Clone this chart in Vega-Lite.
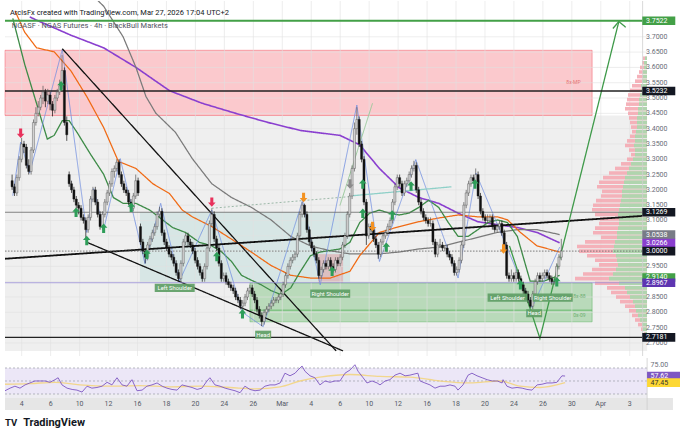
{
  "$schema": "https://vega.github.io/schema/vega-lite/v6.json",
  "padding": 0,
  "spacing": 0,
  "background": "white",
  "config": {"view": {"stroke": null}, "font": "Roboto", "axis": {"disable": true}},
  "vconcat": [
    {
      "width": 680,
      "height": 355,
      "resolve": {"scale": {"x": "independent"}},
      "layer": [
        {
          "layer": [
            {
              "data": {"values": [
                {"i": -0.9, "i2": 265.2, "p": 2.6737, "p2": 3.443, "k": "bg"},
                {"i": -0.9, "i2": 242.4, "p": 3.443, "p2": 3.656, "k": "red"},
                {"i": 55.0, "i2": 142.1, "p": 2.897, "p2": 3.127, "k": "teal"},
                {"i": 128.8, "i2": 139.2, "p": 2.896, "p2": 2.99, "k": "pink"},
                {"i": 100.6, "i2": 242.4, "p": 2.807, "p2": 2.896, "k": "green"},
                {"i": 100.6, "i2": 242.4, "p": 2.769, "p2": 2.807, "k": "green"}
              ]},
              "mark": {"type": "rect", "strokeWidth": 0.8},
              "encoding": {
                "x": {"field": "i", "type": "quantitative", "scale": {"domain": [-2.984, 278.82], "nice": false, "zero": false}},
                "x2": {"field": "i2"},
                "y": {"field": "p", "type": "quantitative", "scale": {"domain": [2.6737, 3.8006], "nice": false, "zero": false}},
                "y2": {"field": "p2"},
                "fill": {"condition": [
                  {"test": "datum.k=='bg'", "value": "#efefef"},
                  {"test": "datum.k=='red'", "value": "rgba(242,54,69,0.27)"},
                  {"test": "datum.k=='teal'", "value": "rgba(38,166,154,0.12)"},
                  {"test": "datum.k=='pink'", "value": "rgba(242,54,69,0.22)"}
                ], "value": "rgba(76,175,80,0.33)"},
                "stroke": {"condition": [
                  {"test": "datum.k=='red'", "value": "rgba(242,54,69,0.5)"},
                  {"test": "datum.k=='green'", "value": "rgba(76,175,80,0.55)"}
                ], "value": "rgba(0,0,0,0)"}
              }
            },
            {
              "data": {"values": [
                {"i": 6}, {"i": 18}, {"i": 30}, {"i": 42}, {"i": 54}, {"i": 66}, {"i": 78}, {"i": 90},
                {"i": 102}, {"i": 114}, {"i": 126}, {"i": 138}, {"i": 150}, {"i": 162}, {"i": 174},
                {"i": 186}, {"i": 198}, {"i": 210}, {"i": 222}, {"i": 234}, {"i": 246}, {"i": 258}
              ]},
              "mark": {"type": "rule", "color": "#e0e0e0", "strokeWidth": 0.6},
              "encoding": {"x": {"field": "i", "type": "quantitative", "scale": {"domain": [-2.984, 278.82], "nice": false, "zero": false}}}
            },
            {
              "data": {"values": "p\n2.70\n2.75\n2.80\n2.85\n2.90\n2.95\n3.00\n3.05\n3.10\n3.15\n3.20\n3.25\n3.30\n3.35\n3.40\n3.45\n3.50\n3.55\n3.60\n3.65\n3.70", "format": {"type": "csv", "parse": {"p": "number"}}},
              "mark": {"type": "rule", "color": "#e0e0e0", "strokeWidth": 0.6},
              "encoding": {
                "x": {"datum": -0.9},
                "x2": {"datum": 265.2},
                "y": {"field": "p", "type": "quantitative", "scale": {"domain": [2.6737, 3.8006], "nice": false, "zero": false}}
              }
            }
          ]
        },
        {
          "data": {"values": "p,tot,buy\n3.63,4,2\n3.615,5,3\n3.60,7,3\n3.585,8,4\n3.57,10,4\n3.555,12,5\n3.54,15,6\n3.525,17,6\n3.51,19,7\n3.495,20,8\n3.48,21,8\n3.465,22,9\n3.45,19,9\n3.435,18,10\n3.42,17,10\n3.405,16,10\n3.39,15,11\n3.375,17,12\n3.36,20,12\n3.345,22,13\n3.33,18,12\n3.315,16,12\n3.30,20,14\n3.285,26,16\n3.27,32,18\n3.255,38,20\n3.24,44,22\n3.225,48,23\n3.21,50,24\n3.195,45,25\n3.18,46,25\n3.165,51,26\n3.15,54,27\n3.135,55,28\n3.12,52,29\n3.105,47,28\n3.09,48,28\n3.075,52,29\n3.06,54,30\n3.045,46,30\n3.03,62,32\n3.015,70,33\n3.00,68,34\n2.985,60,31\n2.97,52,30\n2.955,48,29\n2.94,55,31\n2.925,64,34\n2.91,72,38\n2.895,52,28\n2.88,40,22\n2.865,36,20\n2.85,31,17\n2.835,27,14\n2.82,22,12\n2.805,18,11\n2.79,15,9\n2.775,12,7\n2.76,9,5\n2.745,6,4\n2.73,3,2", "format": {"type": "csv", "parse": {"p": "number", "tot": "number", "buy": "number"}}},
          "layer": [
            {
              "mark": {"type": "bar", "height": 3.6, "color": "#f4aab2", "opacity": 0.9},
              "encoding": {
                "x": {"field": "tot", "type": "quantitative", "scale": {"domain": [-33, 647], "reverse": true, "nice": false, "zero": false}},
                "x2": {"datum": 0},
                "y": {"field": "p", "type": "quantitative", "scale": {"domain": [2.6737, 3.8006], "nice": false, "zero": false}}
              }
            },
            {
              "mark": {"type": "bar", "height": 3.6, "color": "#acd7ad", "opacity": 0.95},
              "encoding": {
                "x": {"field": "buy", "type": "quantitative", "scale": {"domain": [-33, 647], "reverse": true, "nice": false, "zero": false}},
                "x2": {"datum": 0},
                "y": {"field": "p", "type": "quantitative"}
              }
            }
          ]
        },
        {
          "layer": [
            {
              "data": {"values": "s,i,p\nma200,7.4,3.765\nma200,10.7,3.753\nma200,24.8,3.705\nma200,38.5,3.664\nma200,52.1,3.600\nma200,66.2,3.524\nma200,79.9,3.483\nma200,93.6,3.451\nma200,107.7,3.420\nma200,121.3,3.394\nma200,137.9,3.378\nma200,146.2,3.347\nma200,154.5,3.270\nma200,162.8,3.207\nma200,171.1,3.175\nma200,179.4,3.156\nma200,187.6,3.124\nma200,195.9,3.096\nma200,204.2,3.086\nma200,212.5,3.077\nma200,220.8,3.061\nma200,230.3,3.027\nma100,34.3,3.832\nma100,38.5,3.800\nma100,46.7,3.700\nma100,52.1,3.600\nma100,56.3,3.505\nma100,60.4,3.451\nma100,68.7,3.388\nma100,75.8,3.302\nma100,84.0,3.220\nma100,92.3,3.175\nma100,100.6,3.143\nma100,108.9,3.102\nma100,117.2,3.048\nma100,125.5,3.017\nma100,133.8,3.001\nma100,142.1,2.991\nma100,154.5,2.991\nma100,162.8,2.997\nma100,171.1,3.007\nma100,179.4,3.013\nma100,187.6,3.029\nma100,195.9,3.045\nma100,204.2,3.061\nma100,212.5,3.070\nma100,220.8,3.070\nma100,230.3,3.054\nma50,1.2,3.785\nma50,5.3,3.715\nma50,10.3,3.664\nma50,17.7,3.651\nma50,24.8,3.588\nma50,31.4,3.505\nma50,38.5,3.404\nma50,44.7,3.293\nma50,52.1,3.270\nma50,59.2,3.220\nma50,66.2,3.188\nma50,71.6,3.134\nma50,75.8,3.112\nma50,84.0,3.080\nma50,92.3,3.039\nma50,100.6,2.997\nma50,108.9,2.953\nma50,117.2,2.921\nma50,125.5,2.912\nma50,133.8,2.912\nma50,142.1,2.934\nma50,146.2,2.985\nma50,154.5,3.061\nma50,162.8,3.080\nma50,171.1,3.096\nma50,179.4,3.108\nma50,187.6,3.118\nma50,195.9,3.112\nma50,204.2,3.112\nma50,208.4,3.102\nma50,213.8,3.061\nma50,220.8,3.017\nma50,230.3,2.997\nma20,0.3,3.760\nma20,5.3,3.610\nma20,9.4,3.505\nma20,14.8,3.366\nma20,17.7,3.378\nma20,21.1,3.426\nma20,24.0,3.426\nma20,27.3,3.388\nma20,33.1,3.315\nma20,38.5,3.251\nma20,42.6,3.175\nma20,46.7,3.156\nma20,52.1,3.156\nma20,57.9,3.134\nma20,63.3,3.102\nma20,67.5,3.077\nma20,72.9,3.061\nma20,78.7,3.029\nma20,84.0,3.017\nma20,88.2,2.997\nma20,92.3,2.966\nma20,96.5,2.921\nma20,100.6,2.905\nma20,104.8,2.890\nma20,108.9,2.871\nma20,113.1,2.858\nma20,117.2,2.880\nma20,121.3,2.934\nma20,125.5,2.985\nma20,129.6,2.997\nma20,137.9,3.007\nma20,142.1,3.029\nma20,146.2,3.093\nma20,150.4,3.124\nma20,154.5,3.134\nma20,158.6,3.124\nma20,162.8,3.118\nma20,166.9,3.124\nma20,171.1,3.143\nma20,175.2,3.166\nma20,179.4,3.143\nma20,183.5,3.093\nma20,187.6,3.048\nma20,191.8,3.048\nma20,195.9,3.070\nma20,200.1,3.093\nma20,204.2,3.102\nma20,208.4,3.093\nma20,212.5,3.048\nma20,217.9,2.902\nma20,223.7,2.902\nma20,230.3,2.921\nzz,0.3,3.181\nzz,3.6,3.356\nzz,7.4,3.255\nzz,21.1,3.658\nzz,31.4,3.061\nzz,34.3,3.204\nzz,38.5,3.070\nzz,45.5,3.302\nzz,55.9,2.959\nzz,62.5,3.156\nzz,70.4,2.902\nzz,84.0,3.134\nzz,96.9,2.800\nzz,105.6,2.753\nzz,122.2,3.166\nzz,129.6,2.890\nzz,145.0,3.477\nzz,154.5,2.966\nzz,169.8,3.299\nzz,187.6,2.912\nzz,195.1,3.255\nzz,218.7,2.816\nzz,230.3,3.013\ntl1,21.1,3.661\ntl1,136.3,2.674\ntl2,31.4,3.029\ntl2,139.2,2.674\ntl3,-2.984,2.975\ntl3,265.2,3.115\ndot,84.0,3.140\ndot,142.1,3.178\nteal,143.4,3.181\nteal,184.8,3.210\nlg,137.9,3.149\nlg,151.6,3.483\nproj,209.2,3.017\nproj,222.0,2.715\nproj,255.2,3.750\nchev,252.7,3.727\nchev,255.2,3.750\nchev,258.1,3.731", "format": {"type": "csv", "parse": {"i": "number", "p": "number"}}},
              "mark": {"type": "line", "clip": true},
              "encoding": {
                "x": {"field": "i", "type": "quantitative", "scale": {"domain": [-2.984, 278.82], "nice": false, "zero": false}},
                "y": {"field": "p", "type": "quantitative", "scale": {"domain": [2.6737, 3.8006], "nice": false, "zero": false}},
                "detail": {"field": "s"},
                "stroke": {"condition": [
                  {"test": "datum.s=='ma200'", "value": "#8a3fcf"},
                  {"test": "datum.s=='ma100'", "value": "#7a7a7a"},
                  {"test": "datum.s=='ma50'", "value": "#f06a14"},
                  {"test": "datum.s=='ma20'", "value": "#3d8b47"},
                  {"test": "datum.s=='zz'", "value": "#6f8de0"},
                  {"test": "datum.s=='dot'", "value": "#9cb8a8"},
                  {"test": "datum.s=='teal'", "value": "#8fd0c8"},
                  {"test": "datum.s=='lg'", "value": "#98c99a"},
                  {"test": "datum.s=='proj' || datum.s=='chev'", "value": "#3f9a4a"}
                ], "value": "#111111"},
                "strokeWidth": {"condition": [
                  {"test": "datum.s=='ma200'", "value": 1.6},
                  {"test": "datum.s=='ma50' || datum.s=='ma100'", "value": 1.25},
                  {"test": "datum.s=='zz'", "value": 0.8},
                  {"test": "datum.s=='tl3'", "value": 1.8},
                  {"test": "datum.s=='dot' || datum.s=='lg'", "value": 1}
                ], "value": 1.3},
                "strokeDash": {"condition": {"test": "datum.s=='dot'", "value": [2, 2]}, "value": [1, 0]}
              }
            },
            {
              "data": {"values": [
                {"p": 3.7522, "k": "green"},
                {"p": 3.5232, "k": "black"},
                {"p": 2.7181, "k": "black"},
                {"p": 3.1269, "k": "grey"},
                {"p": 3.0, "k": "dot"},
                {"p": 2.8967, "k": "purple"}
              ]},
              "mark": {"type": "rule"},
              "encoding": {
                "x": {"datum": -2.984},
                "x2": {"datum": 265.2},
                "y": {"field": "p", "type": "quantitative", "scale": {"domain": [2.6737, 3.8006], "nice": false, "zero": false}},
                "color": {"condition": [
                  {"test": "datum.k=='green'", "value": "#43a047"},
                  {"test": "datum.k=='black'", "value": "#222222"},
                  {"test": "datum.k=='purple'", "value": "#9a8fd8"}
                ], "value": "#666666"},
                "strokeWidth": {"condition": [
                  {"test": "datum.k=='green'", "value": 2},
                  {"test": "datum.k=='black'", "value": 1.4}
                ], "value": 0.8},
                "strokeDash": {"condition": {"test": "datum.k=='dot'", "value": [1.5, 1.5]}, "value": [1, 0]}
              }
            },
            {
              "data": {"values": "i,o,h,l,c\n0,3.23,3.25,3.20,3.21\n1,3.21,3.22,3.18,3.19\n2,3.19,3.25,3.18,3.24\n3,3.24,3.31,3.23,3.30\n4,3.30,3.37,3.29,3.35\n5,3.35,3.36,3.32,3.34\n6,3.34,3.35,3.27,3.28\n7,3.28,3.30,3.25,3.26\n8,3.26,3.34,3.25,3.33\n9,3.33,3.43,3.32,3.42\n10,3.42,3.47,3.41,3.45\n11,3.45,3.49,3.44,3.47\n12,3.47,3.51,3.46,3.50\n13,3.50,3.54,3.48,3.52\n14,3.52,3.53,3.47,3.49\n15,3.49,3.53,3.48,3.51\n16,3.51,3.52,3.46,3.48\n17,3.48,3.49,3.44,3.46\n18,3.46,3.51,3.45,3.50\n19,3.50,3.53,3.49,3.52\n20,3.52,3.56,3.51,3.54\n21,3.54,3.64,3.53,3.59\n22,3.59,3.60,3.41,3.42\n23,3.42,3.44,3.36,3.38\n24,3.25,3.26,3.21,3.22\n25,3.22,3.23,3.19,3.20\n26,3.20,3.21,3.16,3.17\n27,3.17,3.18,3.14,3.15\n28,3.15,3.16,3.12,3.14\n29,3.14,3.15,3.10,3.11\n30,3.11,3.12,3.09,3.10\n31,3.10,3.11,3.04,3.07\n32,3.07,3.12,3.06,3.11\n33,3.11,3.18,3.10,3.17\n34,3.17,3.21,3.16,3.20\n35,3.20,3.21,3.15,3.16\n36,3.16,3.17,3.11,3.12\n37,3.12,3.13,3.07,3.08\n38,3.08,3.13,3.07,3.12\n39,3.12,3.17,3.11,3.16\n40,3.16,3.20,3.15,3.19\n41,3.19,3.23,3.18,3.22\n42,3.22,3.27,3.21,3.26\n43,3.26,3.28,3.24,3.27\n44,3.27,3.30,3.26,3.29\n45,3.29,3.30,3.24,3.25\n46,3.25,3.26,3.21,3.22\n47,3.22,3.23,3.19,3.20\n48,3.20,3.21,3.18,3.19\n49,3.19,3.20,3.15,3.16\n50,3.16,3.17,3.13,3.14\n51,3.14,3.19,3.13,3.18\n52,3.18,3.25,3.17,3.23\n53,3.23,3.24,3.18,3.19\n54,3.08,3.09,3.02,3.03\n55,3.03,3.04,2.99,3.00\n56,3.00,3.01,2.96,2.98\n57,2.98,3.03,2.97,3.02\n58,3.02,3.05,3.01,3.04\n59,3.04,3.07,3.03,3.06\n60,3.06,3.09,3.05,3.08\n61,3.08,3.13,3.07,3.12\n62,3.12,3.145,3.11,3.13\n63,3.13,3.14,3.05,3.06\n64,3.06,3.07,3.02,3.03\n65,3.03,3.04,3.00,3.01\n66,3.01,3.02,2.98,2.99\n67,2.99,3.00,2.97,2.98\n68,2.98,2.99,2.95,2.96\n69,2.96,2.97,2.92,2.93\n70,2.93,2.94,2.90,2.91\n71,2.91,2.97,2.90,2.96\n72,2.96,3.04,2.95,3.03\n73,3.03,3.06,3.02,3.05\n74,3.05,3.06,3.02,3.03\n75,3.03,3.04,3.01,3.02\n76,3.02,3.03,2.99,3.00\n77,3.00,3.01,2.96,2.97\n78,2.97,2.98,2.94,2.95\n79,2.95,2.96,2.92,2.93\n80,2.93,2.94,2.90,2.91\n81,2.91,2.96,2.90,2.95\n82,2.95,3.02,2.94,3.01\n83,3.01,3.10,3.00,3.09\n84,3.09,3.14,3.08,3.12\n85,3.12,3.13,3.03,3.04\n86,3.04,3.05,3.00,3.01\n87,3.01,3.02,2.95,2.96\n88,2.96,2.97,2.90,2.91\n89,2.91,2.93,2.90,2.92\n90,2.92,2.93,2.89,2.90\n91,2.90,2.91,2.88,2.89\n92,2.89,2.90,2.87,2.88\n93,2.88,2.89,2.86,2.87\n94,2.87,2.88,2.84,2.85\n95,2.85,2.86,2.83,2.84\n96,2.84,2.85,2.81,2.82\n97,2.82,2.84,2.81,2.83\n98,2.83,2.86,2.82,2.85\n99,2.85,2.88,2.84,2.87\n100,2.87,2.89,2.86,2.88\n101,2.88,2.89,2.85,2.86\n102,2.86,2.87,2.83,2.84\n103,2.84,2.85,2.80,2.81\n104,2.81,2.82,2.78,2.79\n105,2.79,2.80,2.755,2.77\n106,2.77,2.81,2.76,2.80\n107,2.80,2.82,2.79,2.81\n108,2.81,2.83,2.80,2.82\n109,2.82,2.84,2.81,2.83\n110,2.83,2.85,2.82,2.84\n111,2.84,2.85,2.83,2.84\n112,2.84,2.86,2.83,2.85\n113,2.85,2.87,2.84,2.86\n114,2.86,2.90,2.85,2.89\n115,2.89,2.93,2.88,2.92\n116,2.92,2.96,2.91,2.95\n117,2.95,2.98,2.94,2.97\n118,2.97,2.99,2.96,2.98\n119,2.98,3.00,2.97,2.99\n120,2.99,3.06,2.98,3.05\n121,3.05,3.13,3.04,3.12\n122,3.12,3.16,3.11,3.15\n123,3.15,3.155,3.11,3.12\n124,3.12,3.13,3.06,3.07\n125,3.07,3.08,3.02,3.03\n126,3.03,3.04,3.00,3.01\n127,3.01,3.02,2.98,2.99\n128,2.99,3.00,2.96,2.97\n129,2.97,2.98,2.91,2.92\n130,2.92,2.95,2.91,2.94\n131,2.94,2.97,2.93,2.96\n132,2.96,2.97,2.94,2.95\n133,2.95,2.98,2.94,2.97\n134,2.97,2.98,2.94,2.95\n135,2.95,2.96,2.93,2.94\n136,2.94,2.98,2.93,2.97\n137,2.97,2.98,2.95,2.96\n138,2.96,2.99,2.95,2.98\n139,2.98,3.03,2.97,3.02\n140,3.02,3.06,3.01,3.05\n141,3.05,3.13,3.04,3.12\n142,3.12,3.19,3.11,3.18\n143,3.18,3.28,3.17,3.27\n144,3.27,3.42,3.26,3.40\n145,3.40,3.47,3.38,3.43\n146,3.43,3.44,3.34,3.35\n147,3.35,3.36,3.29,3.30\n148,3.30,3.31,3.15,3.16\n149,3.16,3.17,3.02,3.05\n150,3.05,3.09,3.04,3.08\n151,3.08,3.09,3.06,3.07\n152,3.07,3.08,3.03,3.04\n153,3.04,3.05,3.01,3.02\n154,3.02,3.03,2.975,2.99\n155,2.99,3.04,2.98,3.03\n156,3.03,3.06,3.02,3.05\n157,3.05,3.07,3.04,3.06\n158,3.06,3.09,3.05,3.08\n159,3.08,3.11,3.07,3.10\n160,3.10,3.17,3.09,3.16\n161,3.16,3.22,3.15,3.21\n162,3.21,3.25,3.20,3.24\n163,3.24,3.25,3.21,3.22\n164,3.22,3.23,3.18,3.19\n165,3.19,3.23,3.18,3.22\n166,3.22,3.24,3.21,3.23\n167,3.23,3.26,3.22,3.25\n168,3.25,3.28,3.24,3.27\n169,3.27,3.295,3.26,3.28\n170,3.28,3.29,3.19,3.20\n171,3.20,3.21,3.15,3.16\n172,3.16,3.17,3.12,3.13\n173,3.13,3.14,3.10,3.11\n174,3.11,3.12,3.09,3.10\n175,3.10,3.11,3.08,3.09\n176,3.09,3.11,3.08,3.09\n177,3.09,3.10,3.02,3.03\n178,3.03,3.04,2.98,2.99\n179,2.99,3.03,2.98,3.02\n180,3.02,3.04,3.01,3.02\n181,3.02,3.03,3.00,3.01\n182,3.01,3.02,3.00,3.01\n183,3.01,3.02,2.98,2.99\n184,2.99,3.00,2.97,2.98\n185,2.98,2.99,2.95,2.96\n186,2.96,2.97,2.92,2.93\n187,2.93,2.95,2.92,2.94\n188,2.94,2.98,2.93,2.97\n189,2.97,3.03,2.96,3.02\n190,3.02,3.16,3.01,3.15\n191,3.15,3.20,3.14,3.19\n192,3.19,3.23,3.18,3.22\n193,3.22,3.25,3.21,3.24\n194,3.24,3.25,3.22,3.23\n195,3.23,3.27,3.22,3.25\n196,3.25,3.26,3.17,3.18\n197,3.18,3.19,3.12,3.13\n198,3.13,3.14,3.10,3.11\n199,3.11,3.12,3.09,3.10\n200,3.10,3.12,3.09,3.10\n201,3.10,3.12,3.09,3.11\n202,3.11,3.12,3.07,3.08\n203,3.08,3.09,3.06,3.07\n204,3.07,3.09,3.06,3.08\n205,3.08,3.10,3.07,3.09\n206,3.09,3.10,3.05,3.06\n207,3.06,3.07,3.01,3.02\n208,3.02,3.03,2.91,2.92\n209,2.92,2.93,2.90,2.91\n210,2.91,2.94,2.90,2.92\n211,2.92,2.93,2.90,2.91\n212,2.91,2.94,2.90,2.93\n213,2.93,2.94,2.90,2.91\n214,2.91,2.92,2.88,2.89\n215,2.89,2.90,2.86,2.87\n216,2.87,2.88,2.85,2.86\n217,2.86,2.87,2.83,2.84\n218,2.84,2.85,2.815,2.82\n219,2.82,2.87,2.81,2.86\n220,2.86,2.91,2.85,2.90\n221,2.90,2.93,2.89,2.92\n222,2.92,2.93,2.90,2.91\n223,2.91,2.93,2.90,2.92\n224,2.92,2.94,2.91,2.93\n225,2.93,2.94,2.91,2.92\n226,2.92,2.93,2.90,2.91\n227,2.91,2.92,2.89,2.90\n228,2.90,2.91,2.89,2.90\n229,2.90,2.96,2.89,2.95\n230,2.95,2.99,2.94,2.98\n231,2.98,3.04,2.97,3.00", "format": {"type": "csv", "parse": {"i": "number", "o": "number", "h": "number", "l": "number", "c": "number"}}},
              "layer": [
                {
                  "mark": {"type": "rule", "strokeWidth": 0.7},
                  "encoding": {
                    "x": {"field": "i", "type": "quantitative", "scale": {"domain": [-2.984, 278.82], "nice": false, "zero": false}},
                    "y": {"field": "l", "type": "quantitative", "scale": {"domain": [2.6737, 3.8006], "nice": false, "zero": false}},
                    "y2": {"field": "h"},
                    "color": {"condition": {"test": "datum.c >= datum.o", "value": "#555555"}, "value": "#111111"}
                  }
                },
                {
                  "mark": {"type": "bar", "width": 2.1, "strokeWidth": 0.4},
                  "encoding": {
                    "x": {"field": "i", "type": "quantitative", "scale": {"domain": [-2.984, 278.82], "nice": false, "zero": false}},
                    "y": {"field": "o", "type": "quantitative", "scale": {"domain": [2.6737, 3.8006], "nice": false, "zero": false}},
                    "y2": {"field": "c"},
                    "fill": {"condition": {"test": "datum.c >= datum.o", "value": "#d2d2d2"}, "value": "#111111"},
                    "stroke": {"condition": {"test": "datum.c >= datum.o", "value": "#4a4a4a"}, "value": "#111111"}
                  }
                }
              ]
            },
            {
              "data": {"values": "i,p,k\n20.6,3.54,buy\n26.9,3.127,buy\n31.4,3.035,buy\n38.5,3.075,buy\n50.1,3.143,buy\n56.7,2.99,buy\n86.1,2.982,buy\n96.9,2.795,buy\n134.6,2.934,buy\n147.5,3.219,buy\n147.5,3.124,buy\n157.4,3.013,buy\n159.9,3.118,buy\n167.8,3.213,buy\n194.7,3.219,buy\n213.8,2.89,buy\n229.1,2.90,buy\n3.6,3.385,red\n84.0,3.160,red\n122.6,3.175,orange\n151.6,3.080,orange\n206.7,3.007,orange\n142.1,3.219,grey", "format": {"type": "csv", "parse": {"i": "number", "p": "number"}}},
              "layer": [
                {
                  "transform": [{"filter": "datum.k=='buy'"}],
                  "mark": {"type": "point", "shape": "M0,-1L0.8,-0.1H0.32V1H-0.32V-0.1H-0.8Z", "filled": true, "size": 90, "opacity": 1, "strokeWidth": 0, "color": "#2e9d58"},
                  "encoding": {
                    "x": {"field": "i", "type": "quantitative", "scale": {"domain": [-2.984, 278.82], "nice": false, "zero": false}},
                    "y": {"field": "p", "type": "quantitative", "scale": {"domain": [2.6737, 3.8006], "nice": false, "zero": false}}
                  }
                },
                {
                  "transform": [{"filter": "datum.k!='buy'"}],
                  "mark": {"type": "point", "shape": "M0,1L0.8,0.1H0.32V-1H-0.32V0.1H-0.8Z", "filled": true, "size": 90, "opacity": 1, "strokeWidth": 0},
                  "encoding": {
                    "x": {"field": "i", "type": "quantitative"},
                    "y": {"field": "p", "type": "quantitative"},
                    "fill": {"condition": [
                      {"test": "datum.k=='red'", "value": "#e8315b"},
                      {"test": "datum.k=='orange'", "value": "#f39221"}
                    ], "value": "#8a8a8a"}
                  }
                }
              ]
            },
            {
              "data": {"values": [
                {"i": 68.4, "p": 2.880, "t": "Left Shoulder"},
                {"i": 133.8, "p": 2.861, "t": "Right Shoulder"},
                {"i": 105.6, "p": 2.727, "t": "Head"},
                {"i": 208.4, "p": 2.848, "t": "Left Shoulder"},
                {"i": 227.4, "p": 2.848, "t": "Right Shoulder"},
                {"i": 219.6, "p": 2.797, "t": "Head"}
              ]},
              "layer": [
                {
                  "mark": {"type": "point", "filled": true, "opacity": 0.92, "strokeWidth": 0, "color": "#5e9e65"},
                  "encoding": {
                    "x": {"field": "i", "type": "quantitative"},
                    "y": {"field": "p", "type": "quantitative"},
                    "shape": {"condition": {"test": "datum.t=='Head'", "value": "M-1,-0.5H1V0.5H-1Z"}, "value": "M-1,-0.21H1V0.21H-1Z"},
                    "size": {"condition": {"test": "datum.t=='Head'", "value": 256}, "value": 1600}
                  }
                },
                {
                  "mark": {"type": "text", "fontSize": 5.8, "color": "white", "baseline": "middle"},
                  "encoding": {
                    "x": {"field": "i", "type": "quantitative"},
                    "y": {"field": "p", "type": "quantitative"},
                    "text": {"field": "t"}
                  }
                }
              ]
            },
            {
              "data": {"values": [
                {"i": 236.1, "p": 3.553, "t": "8x-MP", "k": "r"},
                {"i": 238.6, "p": 2.852, "t": "8x-88", "k": "g"},
                {"i": 238.6, "p": 2.790, "t": "0x-09", "k": "g"}
              ]},
              "mark": {"type": "text", "fontSize": 5, "baseline": "middle"},
              "encoding": {
                "x": {"field": "i", "type": "quantitative"},
                "y": {"field": "p", "type": "quantitative"},
                "text": {"field": "t"},
                "color": {"condition": {"test": "datum.k=='r'", "value": "#e57373"}, "value": "#6fae72"}
              }
            },
            {
              "data": {"values": [
                {"i": -0.9, "p": 3.778, "t": "ArcisFx created with TradingView.com, Mar 27, 2026 17:04 UTC+2", "k": "a"},
                {"i": -0.1, "p": 3.734, "t": "NGASF · NGAS Futures · 4h · BlackBull Markets", "k": "b"}
              ]},
              "mark": {"type": "text", "fontSize": 7.5, "align": "left", "baseline": "middle"},
              "encoding": {
                "x": {"field": "i", "type": "quantitative"},
                "y": {"field": "p", "type": "quantitative"},
                "text": {"field": "t"},
                "color": {"condition": {"test": "datum.k=='a'", "value": "#131722"}, "value": "#50535e"}
              }
            },
            {
              "data": {"values": [{}]},
              "mark": {"type": "rule", "color": "#cfcfcf", "strokeWidth": 0.8},
              "encoding": {"x": {"datum": 265.2}}
            },
            {
              "data": {"values": "p,t\n2.70,2.7000\n2.75,2.7500\n2.80,2.8000\n2.85,2.8500\n2.95,2.9500\n3.10,3.1000\n3.15,3.1500\n3.20,3.2000\n3.25,3.2500\n3.30,3.3000\n3.35,3.3500\n3.40,3.4000\n3.45,3.4500\n3.50,3.5000\n3.55,3.5500\n3.60,3.6000\n3.65,3.6500\n3.70,3.7000", "format": {"type": "csv", "parse": {"p": "number"}}},
              "mark": {"type": "text", "fontSize": 7, "align": "left", "baseline": "middle", "color": "#6a6d78"},
              "encoding": {
                "x": {"datum": 266.6},
                "y": {"field": "p", "type": "quantitative"},
                "text": {"field": "t"}
              }
            },
            {
              "data": {"values": "p,t,k\n3.7522,3.7522,g\n3.5232,3.5232,b\n3.1269,3.1269,b\n3.0538,3.0538,gr\n3.0266,3.0266,pu\n3.0,3.0000,b\n2.914,2.9140,g\n2.8967,2.8967,in\n2.7181,2.7181,b", "format": {"type": "csv", "parse": {"p": "number"}}},
              "layer": [
                {
                  "mark": {"type": "point", "shape": "M-1,-0.26H1V0.26H-1Z", "size": 1089, "filled": true, "opacity": 1, "strokeWidth": 0},
                  "encoding": {
                    "x": {"datum": 272.0},
                    "y": {"field": "p", "type": "quantitative"},
                    "fill": {"condition": [
                      {"test": "datum.k=='g'", "value": "#43a047"},
                      {"test": "datum.k=='gr'", "value": "#787b86"},
                      {"test": "datum.k=='pu'", "value": "#8a3fcf"},
                      {"test": "datum.k=='in'", "value": "#5e35b1"}
                    ], "value": "#131722"}
                  }
                },
                {
                  "mark": {"type": "text", "fontSize": 7, "align": "left", "baseline": "middle", "color": "white"},
                  "encoding": {
                    "x": {"datum": 266.6},
                    "y": {"field": "p", "type": "quantitative"},
                    "text": {"field": "t"}
                  }
                }
              ]
            }
          ]
        }
      ]
    },
    {
      "width": 680,
      "height": 82,
      "layer": [
        {
          "data": {"values": [
            {"i": -0.9, "i2": 265.2, "p": 30, "p2": 70, "k": "band"},
            {"i": -0.9, "i2": 265.2, "p": 23.85, "p2": 30, "k": "strip"},
            {"i": -0.9, "i2": 275.9, "p": 5.38, "p2": 23.85, "k": "date"}
          ]},
          "mark": {"type": "rect"},
          "encoding": {
            "x": {"field": "i", "type": "quantitative", "scale": {"domain": [-2.984, 278.82], "nice": false, "zero": false}},
            "x2": {"field": "i2"},
            "y": {"field": "p", "type": "quantitative", "scale": {"domain": [-40.77, 85.38], "nice": false, "zero": false}},
            "y2": {"field": "p2"},
            "fill": {"condition": [
              {"test": "datum.k=='band'", "value": "#ece7f7"},
              {"test": "datum.k=='strip'", "value": "#eeedf2"}
            ], "value": "#e6e6e6"}
          }
        },
        {
          "data": {"values": [{"p": 70}, {"p": 50}, {"p": 30}]},
          "mark": {"type": "rule", "strokeDash": [2, 2], "color": "#9a9ca6", "strokeWidth": 0.7},
          "encoding": {
            "x": {"datum": -0.9},
            "x2": {"datum": 265.2},
            "y": {"field": "p", "type": "quantitative"}
          }
        },
        {
          "data": {"values": [{}]},
          "mark": {"type": "rule", "color": "#cfcfcf", "strokeWidth": 0.8},
          "encoding": {"x": {"datum": 265.2}, "y": {"datum": 5.38}, "y2": {"datum": 85.38}}
        },
        {
          "data": {"values": "i,p\n-0.9,45\n9.4,46\n19.8,48\n30.1,44\n42.6,42\n55.0,43\n67.5,41\n79.9,42\n92.3,40\n102.7,38\n113.1,41\n121.3,50\n129.6,56\n142.1,60\n154.5,57\n166.9,56\n179.4,50\n191.8,47\n204.2,50\n212.5,42\n220.8,40\n231.2,47.45", "format": {"type": "csv", "parse": {"i": "number", "p": "number"}}},
          "mark": {"type": "line", "color": "#f3d37a", "strokeWidth": 1.3, "opacity": 0.85, "interpolate": "monotone"},
          "encoding": {
            "x": {"field": "i", "type": "quantitative"},
            "y": {"field": "p", "type": "quantitative"}
          }
        },
        {
          "data": {"values": "i,p\n-0.9,35\n1.2,39\n3.2,42\n5.3,39\n7.4,44\n9.4,47\n11.5,50\n13.6,50\n15.7,50\n17.7,48\n19.8,52\n21.1,55\n22.7,44\n24.8,39\n26.9,37\n28.9,36\n31.0,33\n33.1,42\n35.1,39\n37.2,40\n39.3,42\n41.4,48\n43.4,44\n45.5,55\n47.6,44\n49.6,42\n51.7,52\n53.8,35\n55.9,36\n57.9,42\n60.0,44\n62.1,47\n64.2,42\n66.2,39\n68.3,37\n70.4,36\n72.4,44\n74.5,42\n76.6,40\n78.7,37\n80.7,39\n82.8,50\n84.0,55\n86.1,44\n88.2,42\n90.3,39\n92.3,37\n94.4,35\n96.5,32\n98.5,42\n100.6,37\n102.7,35\n104.8,36\n106.8,42\n108.9,44\n111.0,44\n113.1,47\n115.1,62\n117.2,58\n119.3,62\n120.5,67\n122.2,73\n123.4,65\n125.5,58\n127.5,55\n129.6,44\n131.7,50\n133.8,48\n135.8,50\n137.9,50\n140.0,62\n142.1,67\n144.1,75\n145.4,65\n147.5,55\n149.1,47\n151.2,50\n153.3,47\n154.5,44\n156.6,50\n158.6,52\n160.7,59\n162.8,62\n164.9,58\n166.9,59\n169.0,61\n170.2,62\n171.1,50\n173.1,47\n175.2,44\n177.3,39\n179.4,42\n181.4,42\n183.5,44\n185.6,42\n186.8,36\n188.9,44\n191.0,59\n192.6,62\n194.7,58\n196.8,55\n198.9,52\n201.0,50\n203.1,50\n205.1,47\n205.5,52\n207.1,42\n209.2,39\n211.3,40\n213.4,39\n215.4,37\n217.5,36\n219.6,44\n221.6,45\n223.7,47\n225.8,47\n227.8,48\n229.9,58\n231.2,57.62", "format": {"type": "csv", "parse": {"i": "number", "p": "number"}}},
          "mark": {"type": "line", "color": "#7e57c2", "strokeWidth": 0.9},
          "encoding": {
            "x": {"field": "i", "type": "quantitative"},
            "y": {"field": "p", "type": "quantitative"}
          }
        },
        {
          "data": {"values": [{"p": 75, "t": "75.00"}]},
          "mark": {"type": "text", "fontSize": 7, "align": "left", "baseline": "middle", "color": "#6a6d78"},
          "encoding": {"x": {"datum": 266.6}, "y": {"field": "p", "type": "quantitative"}, "text": {"field": "t"}}
        },
        {
          "data": {"values": [{"p": 57.62, "t": "57.62", "k": "rsi"}, {"p": 47.45, "t": "47.45", "k": "ma"}]},
          "layer": [
            {
              "mark": {"type": "point", "shape": "M-1,-0.26H1V0.26H-1Z", "size": 1089, "filled": true, "opacity": 1, "strokeWidth": 0},
              "encoding": {
                "x": {"datum": 272.0},
                "y": {"field": "p", "type": "quantitative"},
                "fill": {"condition": {"test": "datum.k=='rsi'", "value": "#7e57c2"}, "value": "#fdd835"}
              }
            },
            {
              "mark": {"type": "text", "fontSize": 7, "align": "left", "baseline": "middle"},
              "encoding": {
                "x": {"datum": 266.6},
                "y": {"field": "p", "type": "quantitative"},
                "text": {"field": "t"},
                "color": {"condition": {"test": "datum.k=='rsi'", "value": "white"}, "value": "#333333"}
              }
            }
          ]
        },
        {
          "data": {"values": [
            {"i": 6, "t": "4"}, {"i": 18, "t": "6"}, {"i": 30, "t": "10"}, {"i": 42, "t": "12"},
            {"i": 54, "t": "16"}, {"i": 66, "t": "18"}, {"i": 78, "t": "20"}, {"i": 90, "t": "24"},
            {"i": 102, "t": "26"}, {"i": 114, "t": "Mar"}, {"i": 126, "t": "4"}, {"i": 138, "t": "6"},
            {"i": 150, "t": "10"}, {"i": 162, "t": "12"}, {"i": 174, "t": "16"}, {"i": 186, "t": "18"},
            {"i": 198, "t": "20"}, {"i": 210, "t": "24"}, {"i": 222, "t": "26"}, {"i": 234, "t": "30"},
            {"i": 246, "t": "Apr"}, {"i": 258, "t": "3"}
          ]},
          "mark": {"type": "text", "fontSize": 7, "baseline": "middle", "color": "#555a66"},
          "encoding": {
            "x": {"field": "i", "type": "quantitative"},
            "y": {"datum": 14.6},
            "text": {"field": "t"}
          }
        },
        {
          "data": {"values": [{"i": -0.9, "t": "TV", "k": "logo"}, {"i": 6.6, "t": "TradingView", "k": "word"}]},
          "mark": {"type": "text", "fontWeight": "bold", "align": "left", "baseline": "middle", "color": "#131722"},
          "encoding": {
            "x": {"field": "i", "type": "quantitative"},
            "y": {"datum": -14.6},
            "text": {"field": "t"},
            "size": {"condition": {"test": "datum.k=='logo'", "value": 9.5}, "value": 11}
          }
        }
      ]
    }
  ]
}
